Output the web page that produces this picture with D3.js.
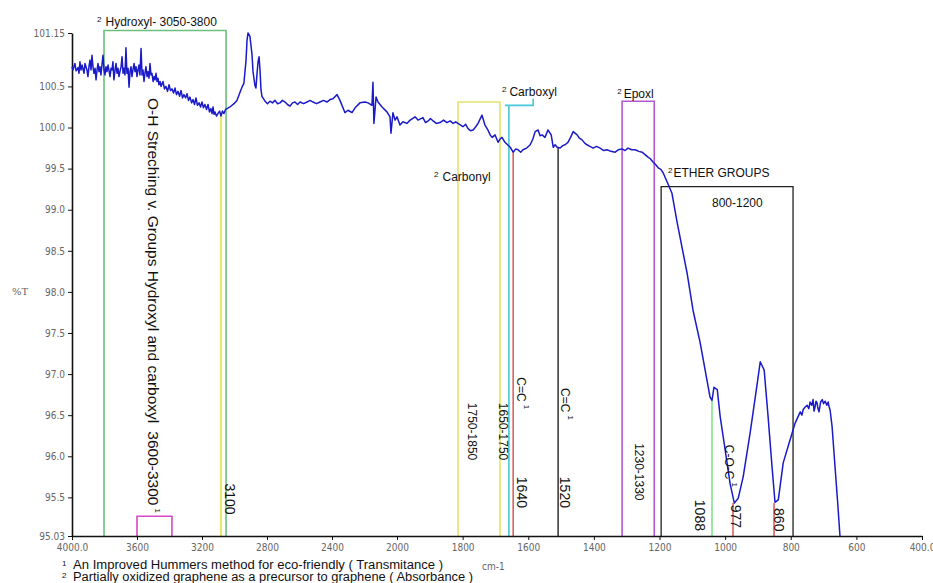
<!DOCTYPE html>
<html lang="en">
<head>
  <meta charset="UTF-8">
  <title>FTIR spectrum</title>
  <script src="https://d3js.org/d3.v7.min.js"></script>
  <style>
    body { margin: 0; background: #fff; }
    svg { display: block; font-family: "Liberation Sans", Arial, sans-serif; }
  </style>
</head>
<body>
<div id="chart"></div>
<script>
  // Spectrum (cm-1, %T)
  const wavenumber = [
    4000, 3994, 3982, 3975, 3963, 3957, 3951, 3945, 3938, 3926, 3920, 3908, 3902, 3895, 3889, 3883,
    3877, 3871, 3865, 3858, 3852, 3846, 3840, 3834, 3828, 3822, 3809, 3803, 3797, 3791, 3785, 3778,
    3766, 3760, 3754, 3748, 3742, 3735, 3729, 3723, 3717, 3711, 3705, 3698, 3692, 3686, 3680, 3674,
    3668, 3662, 3655, 3649, 3643, 3637, 3631, 3625, 3618, 3612, 3606, 3600, 3594, 3588, 3582, 3575,
    3569, 3563, 3557, 3551, 3545, 3538, 3532, 3526, 3520, 3514, 3508, 3501, 3495, 3489, 3483, 3477,
    3471, 3465, 3458, 3452, 3440, 3431, 3422, 3412, 3403, 3394, 3385, 3375, 3366, 3357, 3348, 3338,
    3329, 3320, 3311, 3301, 3292, 3283, 3274, 3264, 3255, 3246, 3237, 3228, 3218, 3209, 3200, 3191,
    3182, 3172, 3163, 3154, 3145, 3138, 3132, 3126, 3120, 3111, 3102, 3092, 3083, 3074, 3065, 3055,
    3046, 3028, 3003, 2985, 2966, 2954, 2942, 2929, 2923, 2917, 2905, 2892, 2886, 2874, 2868, 2862,
    2855, 2849, 2843, 2837, 2831, 2812, 2797, 2782, 2766, 2751, 2735, 2720, 2705, 2689, 2674, 2658,
    2643, 2628, 2612, 2597, 2575, 2554, 2535, 2517, 2495, 2474, 2452, 2431, 2412, 2394, 2369, 2351,
    2320, 2302, 2277, 2258, 2228, 2197, 2178, 2154, 2148, 2142, 2129, 2117, 2092, 2062, 2043, 2037,
    2025, 2012, 2000, 1991, 1982, 1970, 1960, 1945, 1936, 1921, 1913, 1905, 1898, 1890, 1880, 1869,
    1858, 1848, 1838, 1829, 1821, 1814, 1806, 1799, 1791, 1784, 1776, 1768, 1760, 1753, 1741, 1732,
    1723, 1716, 1710, 1701, 1692, 1686, 1680, 1671, 1663, 1655, 1646, 1638, 1631, 1623, 1616, 1605,
    1594, 1586, 1579, 1570, 1564, 1558, 1549, 1540, 1530, 1524, 1518, 1512, 1503, 1495, 1488, 1479,
    1471, 1463, 1451, 1444, 1436, 1428, 1421, 1412, 1402, 1392, 1381, 1370, 1360, 1348, 1335, 1325,
    1314, 1305, 1296, 1285, 1274, 1263, 1253, 1244, 1235, 1228, 1220, 1212, 1204, 1196, 1189, 1177,
    1162, 1146, 1116, 1098, 1076, 1061, 1046, 1040, 1034, 1024, 1015, 1000, 985, 972, 960, 945,
    924, 902, 893, 881, 869, 857, 848, 838, 823, 802, 787, 771, 766, 762, 756, 750,
    745, 741, 736, 732, 729, 726, 723, 720, 717, 714, 709, 704, 700, 695, 690, 686,
    683, 680, 674, 665, 656, 650
  ];
  const transmittance = [
    100.74, 100.70, 100.78, 100.69, 100.73, 100.66, 100.80, 100.70, 100.76, 100.66, 100.78, 100.70, 100.62, 100.75, 100.82, 100.70,
    100.88, 100.74, 100.66, 100.72, 100.58, 100.70, 100.78, 100.68, 100.74, 100.64, 100.88, 100.70, 100.64, 100.74, 100.68, 100.76,
    100.62, 100.72, 100.70, 100.80, 100.58, 100.70, 100.78, 100.66, 100.72, 100.62, 100.68, 100.74, 100.86, 100.66, 100.72, 100.64,
    100.97, 100.66, 100.72, 100.49, 100.68, 100.74, 100.62, 100.70, 100.78, 100.68, 100.74, 100.62, 100.70, 100.76, 100.64, 100.96,
    100.64, 100.70, 100.56, 100.66, 100.74, 100.62, 100.68, 100.60, 100.78, 100.64, 100.66, 100.56, 100.62, 100.58, 100.66, 100.56,
    100.60, 100.52, 100.56, 100.50, 100.56, 100.47, 100.50, 100.44, 100.52, 100.45, 100.47, 100.42, 100.48, 100.40, 100.44, 100.38,
    100.45, 100.36, 100.40, 100.36, 100.41, 100.33, 100.37, 100.30, 100.34, 100.28, 100.36, 100.27, 100.30, 100.25, 100.31, 100.24,
    100.28, 100.22, 100.28, 100.19, 100.23, 100.17, 100.25, 100.16, 100.19, 100.14, 100.17, 100.20, 100.14, 100.20, 100.17, 100.22,
    100.23, 100.25, 100.29, 100.33, 100.43, 100.49, 100.54, 100.82, 101.06, 101.15, 101.11, 100.88, 100.68, 100.51, 100.48, 100.64,
    100.80, 100.86, 100.70, 100.46, 100.38, 100.32, 100.29, 100.32, 100.30, 100.33, 100.29, 100.30, 100.33, 100.31, 100.28, 100.26,
    100.30, 100.31, 100.28, 100.31, 100.29, 100.31, 100.33, 100.31, 100.29, 100.31, 100.33, 100.31, 100.34, 100.35, 100.40, 100.33,
    100.18, 100.21, 100.18, 100.24, 100.30, 100.31, 100.30, 100.27, 100.55, 100.05, 100.37, 100.31, 100.25, 100.19, 100.13, 99.93,
    100.18, 100.09, 100.13, 100.03, 100.07, 100.05, 100.09, 100.13, 100.09, 100.12, 100.06, 100.08, 100.11, 100.08, 100.05, 100.06,
    100.09, 100.06, 100.08, 100.05, 100.07, 100.05, 100.03, 100.01, 100.04, 99.99, 99.96, 99.97, 100.01, 100.05, 100.15, 100.03,
    99.97, 99.91, 99.88, 99.91, 99.82, 99.86, 99.88, 99.82, 99.79, 99.76, 99.70, 99.74, 99.73, 99.70, 99.73, 99.75,
    99.79, 99.86, 99.95, 99.97, 99.90, 99.91, 99.88, 99.97, 99.91, 99.76, 99.79, 99.76, 99.75, 99.78, 99.79, 99.82,
    99.88, 99.95, 99.91, 99.87, 99.85, 99.81, 99.79, 99.77, 99.75, 99.77, 99.75, 99.72, 99.73, 99.71, 99.70, 99.73,
    99.74, 99.72, 99.75, 99.73, 99.73, 99.71, 99.70, 99.67, 99.64, 99.62, 99.58, 99.55, 99.51, 99.49, 99.45, 99.34,
    99.20, 98.84, 98.23, 97.78, 97.38, 97.05, 96.72, 96.68, 96.84, 96.81, 96.48, 96.08, 95.67, 95.43, 95.49, 95.75,
    96.28, 96.89, 97.15, 97.05, 96.48, 95.87, 95.44, 95.47, 95.92, 96.20, 96.40, 96.54, 96.50, 96.57, 96.60, 96.62,
    96.58, 96.66, 96.62, 96.69, 96.55, 96.60, 96.67, 96.65, 96.58, 96.54, 96.66, 96.69, 96.64, 96.67, 96.62, 96.66,
    96.60, 96.56, 96.36, 95.87, 95.38, 95.03
  ];

  // Axis ticks
  const xTicks = [4000, 3600, 3200, 2800, 2400, 2000, 1800, 1600, 1400, 1200, 1000, 800, 600, 400];
  const xTickLabels = ["4000.0", "3600", "3200", "2800", "2400", "2000", "1800", "1600", "1400", "1200", "1000", "800", "600", "400.0"];
  const yTicks = [101.15, 100.5, 100.0, 99.5, 99.0, 98.5, 98.0, 97.5, 97.0, 96.5, 96.0, 95.5, 95.03];
  const yTickLabels = ["101.15", "100.5", "100.0", "99.5", "99.0", "98.5", "98.0", "97.5", "97.0", "96.5", "96.0", "95.5", "95.03"];

  // Band boxes: [left cm-1, right cm-1, top %T]
  const boxNames = ["hydroxyl", "oh", "carbonyl", "epoxl", "ether"];
  const boxSpans = [[3803, 3052, 101.18], [3600, 3385, 95.27], [1814, 1686, 100.31], [1314, 1216, 100.32], [1195, 793, 99.28]];
  const boxColors = ["#6cc07e", "#d848c8", "#e4e46c", "#b458d0", "#222222"];

  // Marker lines: [cm-1, top %T]
  const markLines = [[3083, 100.16], [1659, 100.27], [1646, 99.70], [1509, 99.76], [1040, 96.68], [976, 95.43], [851, 95.43]];
  const markColors = ["#e8e870", "#46c8d8", "#d84a4a", "#222222", "#6ee07a", "#d84a4a", "#d84a4a"];
  const markWidths = [2.2, 1.6, 1.4, 1.4, 1.4, 1.4, 1.4];

  // Carboxyl bracket: cm-1 and %T points
  const bracketWn = [1671, 1585, 1585];
  const bracketT = [100.27, 100.27, 100.35];

  // Horizontal labels: superscript, text, cm-1, %T
  const hSup = ["2", "2", "2", "2", "2", ""];
  const hText = ["Hydroxyl- 3050-3800", "Carboxyl", "Epoxl", "Carbonyl", "ETHER GROUPS", "800-1200"];
  const hWn = [3846, 1680, 1329, 1887, 1174, 1040];
  const hT = [101.24, 100.38, 100.36, 99.35, 99.40, 99.03];
  const hGap = [4, 3, 2, 4, 1, 0];

  // Vertical labels (read top to bottom); second part is set after a wider gap
  const vText = ["O-H Streching v. Groups Hydroxyl and carboxyl", "3100", "1750-1850", "1650-1750",
                 "C=C", "1640", "C=C", "1520", "1230-1330", "1088", "C-O-C", "977", "860"];
  const vTail = ["3600-3300", "", "", "", "", "", "", "", "", "", "", "", ""];
  const vSup = ["1", "", "", "", "1", "", "1", "", "", "", "1", "", ""];
  const vWn = [3532, 3058, 1784, 1689, 1634, 1634, 1500, 1503, 1274, 1091, 1000, 982, 851];
  const vT = [100.36, 95.67, 96.65, 96.65, 96.96, 95.75, 96.83, 95.75, 96.16, 95.47, 96.14, 95.41, 95.37];
  const vSize = [15.5, 14, 12, 12, 12, 14, 12, 14, 12, 14, 12, 14, 14];

  const footnotes = ["An Improved Hummers method for eco-friendly ( Transmitance )",
                     "Partially oxidized graphene as a precursor to graphene ( Absorbance )"];
  const footMarks = ["1", "2"];
  const footLengths = [370, 400];

  const width = 933, height = 583;
  const svg = d3.select("#chart").append("svg")
    .attr("width", width).attr("height", height);

  // Instrument axis: scale doubles below 2000 cm-1
  const x = d3.scaleLinear().domain([4000, 2000, 400]).range([72, 397, 922]);
  const y = d3.scaleLinear().domain([95.03, 101.15]).range([536, 33]);

  // boxes (open at the bottom, they run down to the axis)
  boxSpans.forEach((b, i) => {
    const x0 = x(b[0]), x1 = x(b[1]), yt = y(b[2]), yb = y(95.03);
    svg.append("path")
      .attr("d", `M${x0},${yb}V${yt}H${x1}V${yb}`)
      .attr("fill", "none")
      .attr("stroke", boxColors[i])
      .attr("stroke-width", boxNames[i] === "ether" ? 1.3 : 1.6);
  });

  svg.selectAll(".mark")
    .data(markLines)
    .join("line")
    .attr("class", "mark")
    .attr("x1", d => x(d[0])).attr("x2", d => x(d[0]))
    .attr("y1", d => y(d[1])).attr("y2", y(95.03))
    .attr("stroke", (d, i) => markColors[i])
    .attr("stroke-width", (d, i) => markWidths[i]);

  svg.append("path")
    .attr("d", d3.line()(bracketWn.map((w, i) => [x(w), y(bracketT[i])])))
    .attr("fill", "none")
    .attr("stroke", "#46c8d8")
    .attr("stroke-width", 1.6);

  // axes
  const yAxis = svg.append("g")
    .attr("transform", `translate(${x(4000)},0)`)
    .call(d3.axisLeft(y).tickValues(yTicks).tickSize(4).tickSizeOuter(0)
      .tickFormat((d, i) => yTickLabels[i]));
  const xAxis = svg.append("g")
    .attr("transform", `translate(0,${y(95.03)})`)
    .call(d3.axisBottom(x).tickValues(xTicks).tickSize(4).tickSizeOuter(0)
      .tickFormat((d, i) => xTickLabels[i]));
  [xAxis, yAxis].forEach(g => {
    g.select(".domain").attr("stroke", "#111").attr("stroke-width", 1.6);
    g.selectAll(".tick line").attr("stroke", "#111");
    g.selectAll(".tick text").attr("fill", "#666").attr("font-size", 10)
      .attr("font-family", "'DejaVu Sans Condensed', 'Liberation Sans', sans-serif");
  });
  yAxis.selectAll(".tick text").attr("x", -7);
  xAxis.selectAll(".tick text").attr("y", 8);

  svg.append("text").attr("x", 12).attr("y", y(98.0) + 3)
    .attr("font-size", 10).attr("fill", "#666")
    .attr("font-family", "'DejaVu Serif', serif").text("%T");
  svg.append("text").attr("x", 482).attr("y", 570)
    .attr("font-size", 10).attr("fill", "#666")
    .attr("font-family", "'DejaVu Sans Condensed', sans-serif").text("cm-1");

  // spectrum
  const pts = wavenumber.map((w, i) => [w, transmittance[i]]);
  svg.append("path")
    .datum(pts)
    .attr("fill", "none")
    .attr("stroke", "#1a1ac8")
    .attr("stroke-width", 1.5)
    .attr("stroke-linejoin", "round")
    .attr("d", d3.line().x(d => x(d[0])).y(d => y(d[1])));

  // horizontal labels
  hText.forEach((t, i) => {
    const tx = svg.append("text")
      .attr("x", x(hWn[i])).attr("y", y(hT[i]))
      .attr("font-size", 12).attr("fill", "#111");
    if (hSup[i]) tx.append("tspan").attr("font-size", 8).attr("dy", -4).text(hSup[i]);
    tx.append("tspan").attr("dx", hGap[i]).attr("dy", hSup[i] ? 4 : 0).text(t);
  });

  // vertical labels
  vText.forEach((t, i) => {
    const tx = svg.append("text")
      .attr("transform", `translate(${x(vWn[i])},${y(vT[i])}) rotate(90)`)
      .attr("font-size", vSize[i]).attr("fill", "#111");
    tx.append("tspan").text(t);
    if (vTail[i]) tx.append("tspan").attr("dx", 8).text(vTail[i]);
    if (vSup[i]) tx.append("tspan").attr("font-size", 8).attr("dx", 3).attr("dy", -7).text(vSup[i]);
  });

  // footnotes
  footnotes.forEach((t, i) => {
    const tx = svg.append("text")
      .attr("x", 62).attr("y", 569 + i * 12)
      .attr("font-size", 12).attr("fill", "#111");
    tx.append("tspan").attr("font-size", 8).attr("dy", -3).text(footMarks[i]);
    tx.append("tspan").attr("x", 73).attr("dy", 3)
      .attr("textLength", footLengths[i]).attr("lengthAdjust", "spacingAndGlyphs").text(t);
  });
</script>
</body>
</html>
